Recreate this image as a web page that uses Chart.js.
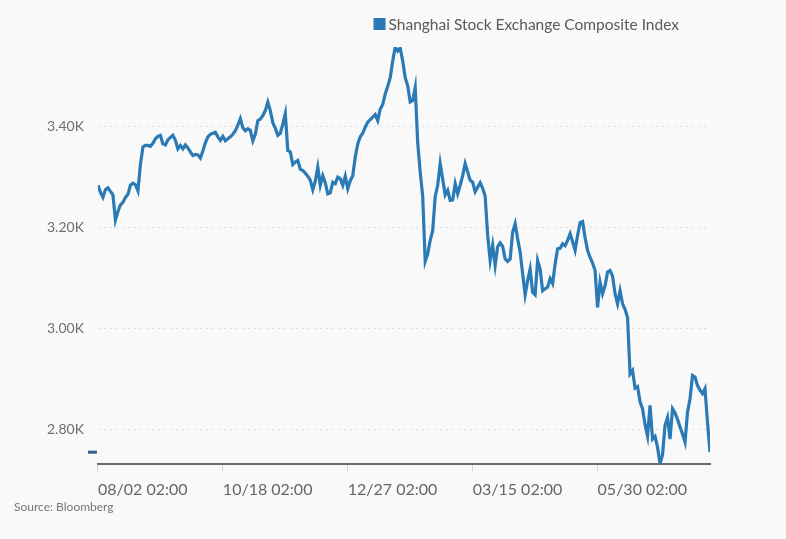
<!DOCTYPE html>
<html>
<head>
<meta charset="utf-8">
<script src="https://cdn.jsdelivr.net/npm/chart.js@4/dist/chart.umd.min.js"></script>
<style>
  html, body { margin: 0; padding: 0; background: #f9f9f9; }
  .wrap { position: relative; width: 786px; height: 539px; }
  .source { position: absolute; left: 14px; top: 499px; font: 12px Lato, sans-serif; color: #777; }
</style>
</head>
<body>
<div class="wrap">
  <canvas id="chart"></canvas>
  <div class="source">Source: Bloomberg</div>
</div>
<script>
const seriesName = 'Shanghai Stock Exchange Composite Index';

// daily closes
const closes = [
  3284, 3270, 3260, 3275, 3279, 3272, 3265, 3215, 3232, 3245,
  3250, 3260, 3266, 3284, 3288, 3285, 3273, 3325, 3360, 3363,
  3363, 3361, 3367, 3376, 3381, 3383, 3366, 3364, 3374, 3379,
  3383, 3373, 3356, 3363, 3356, 3364, 3358, 3350, 3343, 3345,
  3344, 3338, 3352, 3368, 3380, 3385, 3387, 3389, 3380, 3373,
  3381, 3372, 3376, 3380, 3385, 3392, 3403, 3416, 3398, 3392,
  3396, 3393, 3372, 3385, 3412, 3415, 3422, 3432, 3449, 3432,
  3408, 3397, 3383, 3387, 3405, 3426, 3353, 3350, 3325, 3330,
  3333, 3316, 3313, 3308, 3302, 3294, 3275, 3292, 3320, 3284,
  3303, 3289, 3267, 3269, 3290, 3287, 3300, 3297, 3284, 3302,
  3277, 3293, 3303, 3340, 3366, 3380, 3387, 3399, 3409, 3414,
  3419, 3424, 3412, 3435, 3444, 3465, 3480, 3497, 3530, 3558,
  3550, 3556, 3530, 3497, 3481, 3449, 3452, 3478, 3368, 3310,
  3262, 3133, 3148, 3175, 3194, 3262, 3284, 3327, 3296, 3265,
  3274, 3254, 3255, 3287, 3267, 3284, 3303, 3327, 3310, 3294,
  3290, 3271, 3280, 3289, 3278, 3262, 3185, 3135, 3165, 3125,
  3162, 3170, 3163, 3138, 3133, 3138, 3191, 3208, 3178, 3152,
  3109, 3067, 3095, 3118, 3072, 3067, 3135, 3118, 3075, 3079,
  3082, 3099, 3089, 3128, 3158, 3159, 3168, 3164, 3175, 3188,
  3172, 3155, 3185, 3210, 3212, 3180, 3155, 3141, 3130, 3115,
  3042, 3092, 3069, 3085, 3112, 3115, 3104, 3069, 3049, 3075,
  3049, 3038, 3022, 2910, 2917, 2882, 2885, 2855, 2841, 2810,
  2787, 2848, 2781, 2786, 2765, 2732, 2750, 2808, 2824, 2781,
  2841, 2833, 2820, 2805, 2791, 2775, 2834, 2861, 2907, 2904,
  2887, 2878, 2871, 2881, 2814, 2755
];

const xTickPositions = [0, 50, 100, 150, 200];
const xTickLabels = ['08/02 02:00', '10/18 02:00', '12/27 02:00', '03/15 02:00', '05/30 02:00'];
const yTickValues = [2800, 3000, 3200, 3400];

const points = closes.map((v, i) => ({ x: i, y: v }));

// legend drawn on the right, the built-in one can't sit there
const sideLegend = {
  id: 'sideLegend',
  afterDraw(chart) {
    const { ctx, chartArea } = chart;
    const ds = chart.data.datasets[0];
    ctx.save();
    ctx.font = '15.5px Lato';
    const w = ctx.measureText(ds.label).width;
    const x = chartArea.right - 31 - w;
    ctx.fillStyle = ds.borderColor;
    ctx.fillRect(x - 15, 18, 12, 12);
    ctx.fillStyle = '#5a5a5a';
    ctx.textBaseline = 'middle';
    ctx.fillText(ds.label, x, 25);
    ctx.restore();
  }
};

// little marker left of the axis at the latest close
const lastMark = {
  id: 'lastMark',
  afterDraw(chart) {
    const { ctx, chartArea } = chart;
    const y = chart.scales.y.getPixelForValue(closes[closes.length - 1]);
    ctx.save();
    ctx.fillStyle = '#2f5f86';
    ctx.fillRect(chartArea.left - 10, y - 1.5, 9, 3);
    ctx.restore();
  }
};

new Chart(document.getElementById('chart'), {
  type: 'line',
  data: {
    datasets: [{
      label: seriesName,
      data: points,
      borderColor: '#2a7ab6',
      backgroundColor: '#2a7ab6',
      borderWidth: 3.2,
      pointRadius: 0,
      tension: 0
    }]
  },
  options: {
    responsive: true,
    maintainAspectRatio: false,
    animation: false,
    layout: {
      padding: { left: 33, right: 76, top: 47, bottom: 32 }
    },
    plugins: {
      legend: { display: false },
      tooltip: { enabled: false }
    },
    scales: {
      x: {
        type: 'linear',
        min: 0,
        max: closes.length - 1,
        afterBuildTicks: (scale) => {
          scale.ticks = xTickPositions.map(v => ({ value: v }));
        },
        ticks: {
          align: 'start',
          autoSkip: false,
          maxRotation: 0,
          padding: 8,
          color: '#666',
          font: { family: 'Lato', size: 16 },
          callback: (v) => xTickLabels[xTickPositions.indexOf(v)]
        },
        grid: {
          drawOnChartArea: false,
          drawTicks: true,
          tickLength: 8,
          color: '#d4d4d4'
        },
        border: { display: true, color: '#6b6b6b', width: 2 }
      },
      y: {
        min: Math.min(...closes),
        max: Math.max(...closes),
        afterBuildTicks: (scale) => {
          scale.ticks = yTickValues.map(v => ({ value: v }));
        },
        ticks: {
          padding: 14,
          color: '#6e6e6e',
          font: { family: 'Lato', size: 14 },
          callback: (v) => (v / 1000).toFixed(2) + 'K'
        },
        grid: {
          drawTicks: false,
          color: '#dcdcdc',
          lineWidth: 1
        },
        border: { display: false, dash: [2, 4] }
      }
    }
  },
  plugins: [sideLegend, lastMark]
});
</script>
</body>
</html>
